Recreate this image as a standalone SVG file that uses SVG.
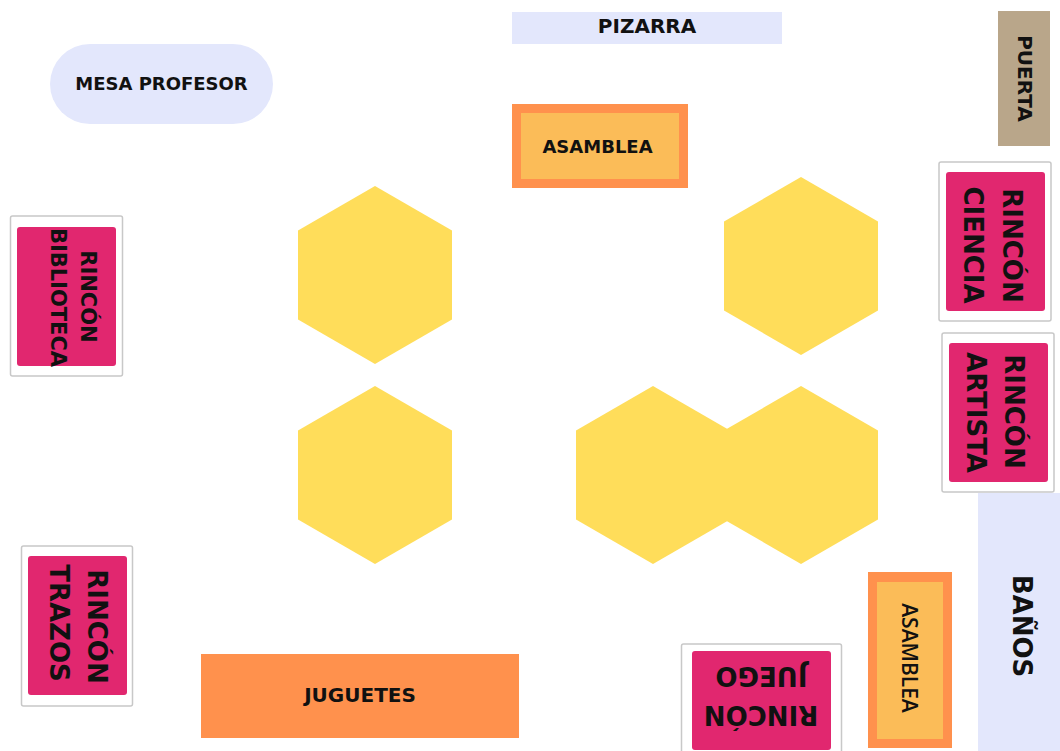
<svg xmlns="http://www.w3.org/2000/svg" width="1060" height="751" viewBox="0 0 1060 751">
<style>
.lav{fill:#E3E7FC}
.hex{fill:#FFDD5A}
.card{fill:#FFFFFF;stroke:#C8C8C8;stroke-width:1.5}
.pink{fill:#E1276F}
.orange{fill:#FF914D}
.inner{fill:#FBBC58}
.door{fill:#B9A68A}
text{font-family:"DejaVu Sans","Liberation Sans",sans-serif;font-weight:bold;fill:#111111;text-anchor:middle}
.t18{font-size:18px}
.t20{font-size:20px}
.t21{font-size:21px}
.t26{font-size:26px}
.semi{font-family:"Open Sans","DejaVu Sans",sans-serif;font-weight:600;font-size:21px}
</style>
<rect width="1060" height="751" fill="#FFFFFF"/>
<g id="mesa-profesor">
<rect class="lav" x="50" y="44" width="223" height="80" rx="40"/>
<text class="t18" x="161.5" y="84" dy="0.36em">MESA PROFESOR</text>
</g>
<g id="pizarra">
<rect class="lav" x="512" y="12" width="270" height="32"/>
<text class="t20" x="647" y="25.5" dy="0.36em">PIZARRA</text>
</g>
<g id="puerta">
<rect class="door" x="998" y="11" width="52" height="135"/>
<text class="t20" transform="translate(1025,78.5) rotate(90)" dy="0.36em">PUERTA</text>
</g>
<g id="asamblea-top">
<rect class="orange" x="512" y="104" width="176" height="84"/>
<rect class="inner" x="521" y="113" width="158" height="66"/>
<text class="t18" x="597.5" y="146.5" dy="0.36em">ASAMBLEA</text>
</g>
<g id="mesa-1"><polygon class="hex" points="375,186 452,230.5 452,319.5 375,364 298,319.5 298,230.5"/></g>
<g id="mesa-2"><polygon class="hex" points="801,177 878,221.5 878,310.5 801,355 724,310.5 724,221.5"/></g>
<g id="mesa-3"><polygon class="hex" points="375,386 452,430.5 452,519.5 375,564 298,519.5 298,430.5"/></g>
<g id="mesa-4"><polygon class="hex" points="653,386 730,430.5 730,519.5 653,564 576,519.5 576,430.5"/></g>
<g id="mesa-5"><polygon class="hex" points="801,386 878,430.5 878,519.5 801,564 724,519.5 724,430.5"/></g>
<g id="rincon-biblioteca">
<rect class="card" x="10.5" y="216" width="112" height="160" rx="2"/>
<rect class="pink" x="17" y="227" width="99" height="139" rx="3"/>
<text class="t21" transform="translate(88.5,296.5) rotate(90)" dy="0.36em">RINCÓN</text>
<text class="t21" transform="translate(59,297.5) rotate(90)" dy="0.36em">BIBLIOTECA</text>
</g>
<g id="rincon-ciencia">
<rect class="card" x="939" y="162" width="112" height="159" rx="2"/>
<rect class="pink" x="946" y="172" width="99" height="139" rx="3"/>
<text class="t26" transform="translate(1012,245.5) rotate(90)" dy="0.36em">RINCÓN</text>
<text class="t26" transform="translate(973.5,245) rotate(90)" dy="0.36em">CIENCIA</text>
</g>
<g id="rincon-artista">
<rect class="card" x="942" y="333" width="112" height="159" rx="2"/>
<rect class="pink" x="949" y="343" width="99" height="139" rx="3"/>
<text class="t26" transform="translate(1014,411.5) rotate(90)" dy="0.36em">RINCÓN</text>
<text class="t26" transform="translate(976.5,412.5) rotate(90)" dy="0.36em">ARTISTA</text>
</g>
<g id="banos">
<rect class="lav" x="978" y="493" width="82" height="258"/>
<text class="t26" transform="translate(1022,626) rotate(90)" dy="0.36em">BAÑOS</text>
</g>
<g id="asamblea-bottom">
<rect class="orange" x="868" y="572" width="84" height="176"/>
<rect class="inner" x="877" y="582" width="66" height="157"/>
<text class="semi" transform="translate(909.5,658) rotate(90)" dy="0.36em">ASAMBLEA</text>
</g>
<g id="rincon-trazos">
<rect class="card" x="21.5" y="546" width="111" height="160" rx="2"/>
<rect class="pink" x="28" y="556" width="99" height="139" rx="3"/>
<text class="t26" transform="translate(97,626.5) rotate(90)" dy="0.36em">RINCÓN</text>
<text class="t26" transform="translate(59,623) rotate(90)" dy="0.36em">TRAZOS</text>
</g>
<g id="juguetes">
<rect class="orange" x="201" y="654" width="318" height="84"/>
<text class="t20" x="360" y="695" dy="0.36em">JUGUETES</text>
</g>
<g id="rincon-juego">
<rect class="card" x="681.5" y="644" width="160" height="116" rx="2"/>
<rect class="pink" x="692" y="651" width="139" height="99" rx="3"/>
<text class="t26" transform="translate(761,715) rotate(180)" dy="0.36em">RINCÓN</text>
<text class="t26" transform="translate(761.5,676.5) rotate(180)" dy="0.36em">JUEGO</text>
</g>
<g id="connectors"></g>
</svg>
